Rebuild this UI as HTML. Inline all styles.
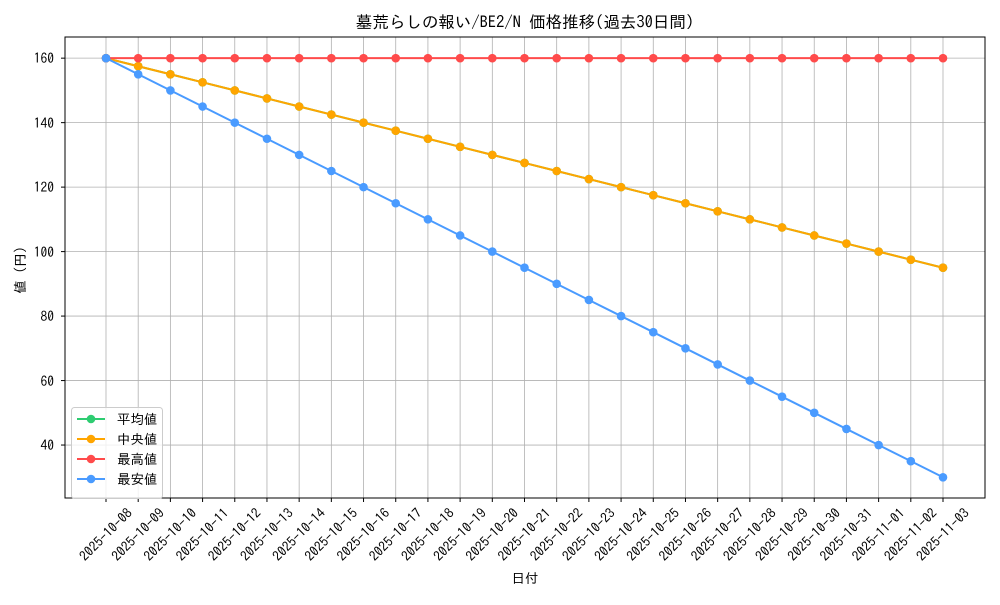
<!DOCTYPE html>
<html><head><meta charset="utf-8"><style>
body{margin:0;background:#fff}
svg text{font-family:"IPAGothic","Noto Sans CJK JP",sans-serif;fill:#000}
</style></head><body>
<svg id="s" width="1000" height="600" xmlns="http://www.w3.org/2000/svg">
<rect width="1000" height="600" fill="#fff"/>
<g id="grid"></g>
<rect x="65" y="37" width="920" height="461" fill="none" stroke="#000" stroke-width="1"/>
<text x="525" y="28" font-size="16.5" text-anchor="middle">墓荒らしの報い/BE2/N 価格推移(過去30日間)</text>
<g font-size="13.5" text-anchor="end">
<text x="54" y="63">160</text><text x="54" y="128">140</text><text x="54" y="192">120</text>
<text x="54" y="257">100</text><text x="54" y="321">80</text><text x="54" y="386">60</text><text x="54" y="450">40</text>
</g>
<text transform="translate(25,270) rotate(-90)" font-size="13.5" text-anchor="middle">値 (円)</text>
<text x="525" y="583" font-size="13.5" text-anchor="middle">日付</text>
<g font-size="13.5" text-anchor="end" id="xl">
<text>2025-10-08</text><text>2025-10-09</text><text>2025-10-10</text><text>2025-10-11</text><text>2025-10-12</text><text>2025-10-13</text><text>2025-10-14</text><text>2025-10-15</text><text>2025-10-16</text><text>2025-10-17</text><text>2025-10-18</text><text>2025-10-19</text><text>2025-10-20</text><text>2025-10-21</text><text>2025-10-22</text><text>2025-10-23</text><text>2025-10-24</text><text>2025-10-25</text><text>2025-10-26</text><text>2025-10-27</text><text>2025-10-28</text><text>2025-10-29</text><text>2025-10-30</text><text>2025-10-31</text><text>2025-11-01</text><text>2025-11-02</text><text>2025-11-03</text>
</g>
<g id="series"></g>
<g>
<rect x="71.5" y="407.5" width="91" height="91" fill="#fff" fill-opacity="0.8" stroke="#ccc" rx="3"/>
<line x1="77" y1="419" x2="105" y2="419" stroke="#2ecc71" stroke-width="2"/><circle cx="91" cy="419" r="4.3" fill="#2ecc71"/>
<line x1="77" y1="439" x2="105" y2="439" stroke="#ffa500" stroke-width="2"/><circle cx="91" cy="439" r="4.3" fill="#ffa500"/>
<line x1="77" y1="459" x2="105" y2="459" stroke="#ff4b4b" stroke-width="2"/><circle cx="91" cy="459" r="4.3" fill="#ff4b4b"/>
<line x1="77" y1="479" x2="105" y2="479" stroke="#4a9bff" stroke-width="2"/><circle cx="91" cy="479" r="4.3" fill="#4a9bff"/>
<g font-size="13.5"><text x="117" y="424">平均値</text><text x="117" y="444">中央値</text><text x="117" y="464">最高値</text><text x="117" y="484">最安値</text></g>
</g>
</svg>
<script>
var NS="http://www.w3.org/2000/svg";
function X(i){return 106+i*(943-106)/26}
function Y(v){return 574-3.224*v}
function el(p,t,a){var e=document.createElementNS(NS,t);for(var k in a)e.setAttribute(k,a[k]);p.appendChild(e);return e}
var g=document.getElementById("grid");
for(var i=0;i<27;i++){el(g,"line",{x1:X(i),x2:X(i),y1:37,y2:498,stroke:"#b0b0b0","stroke-width":0.8});el(g,"line",{x1:X(i),x2:X(i),y1:498,y2:502,stroke:"#000"});}
for(var v=40;v<=160;v+=20){el(g,"line",{x1:65,x2:985,y1:Y(v),y2:Y(v),stroke:"#b0b0b0","stroke-width":0.8});el(g,"line",{x1:61,x2:65,y1:Y(v),y2:Y(v),stroke:"#000"});}
var xl=document.getElementById("xl").children;
for(var i=0;i<xl.length;i++)xl[i].setAttribute("transform","translate("+(X(i)+27)+",514) rotate(-45)");
var s=document.getElementById("series");
function ser(f,c){var p=[];for(var i=0;i<27;i++)p.push(X(i)+","+Y(f(i)));el(s,"polyline",{points:p.join(" "),fill:"none",stroke:c,"stroke-width":2});for(var i=0;i<27;i++)el(s,"circle",{cx:X(i),cy:Y(f(i)),r:4.3,fill:c});}
ser(function(i){return 160-2.5*i},"#2ecc71");
ser(function(i){return 160-2.5*i},"#ffa500");
ser(function(i){return 160},"#ff4b4b");
ser(function(i){return 160-5*i},"#4a9bff");
</script>
</body></html>
